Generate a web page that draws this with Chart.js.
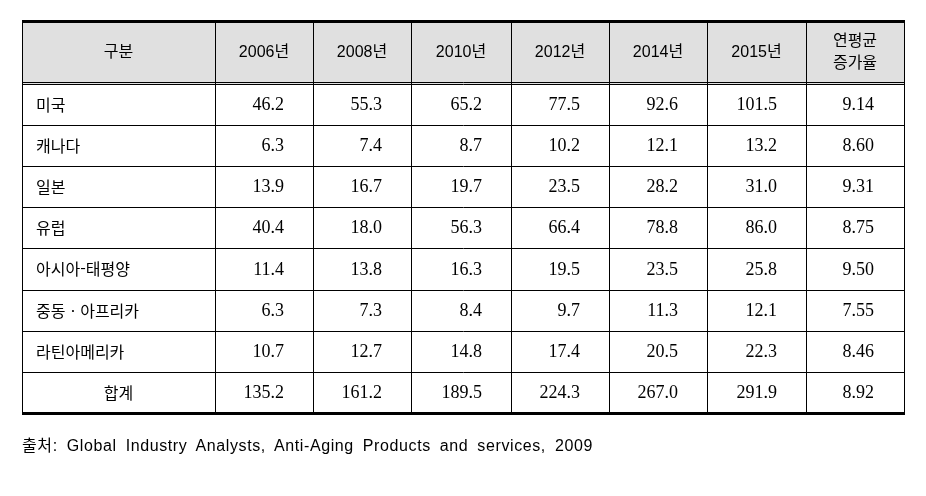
<!DOCTYPE html>
<html lang="ko">
<head>
<meta charset="utf-8">
<title>안티에이징 시장 규모</title>
<script src="https://cdn.jsdelivr.net/npm/chart.js@4.4.0/dist/chart.umd.min.js"></script>
<style>
  body { margin: 0; background: #fff; }
  .wrap { position: relative; width: 926px; height: 496px; }
  #tableChart { position: absolute; left: 0; top: 0; }
  .source {
    position: absolute; left: 22px; top: 432px;
    font: 16px "Liberation Sans", "Noto Sans CJK KR", sans-serif;
    letter-spacing: 0.6px; word-spacing: 4px; color: #000;
  }
</style>
</head>
<body>
<div class="wrap">
  <canvas id="tableChart" width="926" height="496"></canvas>
  <div class="source">출처: Global Industry Analysts, Anti-Aging Products and services, 2009</div>
</div>
<script>
'use strict';

// table data
const headFirst = '구분';
const years = ['2006년', '2008년', '2010년', '2012년', '2014년', '2015년'];
const headLast = ['연평균', '증가율'];
const regions = ['미국', '캐나다', '일본', '유럽', '아시아-태평양', '중동ㆍ아프리카', '라틴아메리카', '합계'];

const v2006 = [46.2, 6.3, 13.9, 40.4, 11.4, 6.3, 10.7, 135.2];
const v2008 = [55.3, 7.4, 16.7, 18.0, 13.8, 7.3, 12.7, 161.2];
const v2010 = [65.2, 8.7, 19.7, 56.3, 16.3, 8.4, 14.8, 189.5];
const v2012 = [77.5, 10.2, 23.5, 66.4, 19.5, 9.7, 17.4, 224.3];
const v2014 = [92.6, 12.1, 28.2, 78.8, 23.5, 11.3, 20.5, 267.0];
const v2015 = [101.5, 13.2, 31.0, 86.0, 25.8, 12.1, 22.3, 291.9];
const cagr = [9.14, 8.60, 9.31, 8.75, 9.50, 7.55, 8.46, 8.92];

const yearSeries = [v2006, v2008, v2010, v2012, v2014, v2015];

// layout: relative widths of columns and heights of rows (scale units)
const colWeights = [1.97, 1, 1, 1.02, 1, 1, 1.01, 1];
const headWeight = 1.5;

let colEdges = [0];
colWeights.forEach(w => colEdges.push(colEdges[colEdges.length - 1] + w));
let rowEdges = [0, headWeight];
regions.forEach(() => rowEdges.push(rowEdges[rowEdges.length - 1] + 1));

const numFont = '18px "Liberation Serif", serif';
const headFont = '16px "Liberation Sans", "Noto Sans CJK KR", sans-serif';
const labelFont = '16px "Noto Sans CJK KR", sans-serif';

const tablePlugin = {
  id: 'tableDraw',
  afterDraw(chart) {
    const ctx = chart.ctx;
    const xs = chart.scales.x, ys = chart.scales.y;
    const X = v => Math.round(xs.getPixelForValue(v));
    const Y = v => Math.round(ys.getPixelForValue(v));
    const left = X(colEdges[0]), right = X(colEdges[colEdges.length - 1]);
    const top = Y(0), bottom = Y(rowEdges[rowEdges.length - 1]);
    const headBottom = Y(headWeight);

    ctx.save();
    // header background
    ctx.fillStyle = '#e0e0e0';
    ctx.fillRect(left, top, right - left, headBottom - top);

    ctx.strokeStyle = '#000';
    ctx.lineWidth = 1;
    ctx.beginPath();
    // vertical lines
    colEdges.forEach(e => {
      const x = X(e) + 0.5;
      ctx.moveTo(x, top); ctx.lineTo(x, bottom);
    });
    // row lines
    rowEdges.slice(2, -1).forEach(e => {
      const y = Y(e) + 0.5;
      ctx.moveTo(left, y); ctx.lineTo(right + 1, y);
    });
    // double line under header
    ctx.moveTo(left, headBottom - 1.5); ctx.lineTo(right + 1, headBottom - 1.5);
    ctx.moveTo(left, headBottom + 0.5); ctx.lineTo(right + 1, headBottom + 0.5);
    ctx.stroke();

    // thick top and bottom rules
    ctx.fillStyle = '#000';
    ctx.fillRect(left, top - 2, right - left + 1, 3);
    ctx.fillRect(left, bottom - 1, right - left + 1, 3);

    // header texts
    ctx.fillStyle = '#000';
    ctx.textBaseline = 'middle';
    ctx.textAlign = 'center';
    ctx.font = headFont;
    const hMid = (top + headBottom) / 2;
    ctx.fillText(headFirst, (X(colEdges[0]) + X(colEdges[1])) / 2, hMid);
    years.forEach((t, i) => {
      ctx.fillText(t, (X(colEdges[i + 1]) + X(colEdges[i + 2])) / 2, hMid);
    });
    const lastMid = (X(colEdges[7]) + X(colEdges[8])) / 2;
    ctx.fillText(headLast[0], lastMid, hMid - 11);
    ctx.fillText(headLast[1], lastMid, hMid + 11);

    // body rows
    regions.forEach((r, j) => {
      const yMid = (Y(rowEdges[j + 1]) + Y(rowEdges[j + 2])) / 2;
      ctx.font = labelFont;
      if (j === regions.length - 1) {
        ctx.textAlign = 'center';
        ctx.fillText(r, (X(colEdges[0]) + X(colEdges[1])) / 2, yMid);
      } else {
        ctx.textAlign = 'left';
        ctx.fillText(r, X(colEdges[0]) + 14, yMid);
      }
      ctx.font = numFont;
      ctx.textAlign = 'right';
      yearSeries.forEach((s, i) => {
        ctx.fillText(s[j].toFixed(1), X(colEdges[i + 2]) - 29, yMid + 1);
      });
      ctx.fillText(cagr[j].toFixed(2), X(colEdges[8]) - 30, yMid + 1);
    });
    ctx.restore();
  }
};

const chart = new Chart(document.getElementById('tableChart'), {
  type: 'scatter',
  data: { datasets: [] },
  options: {
    responsive: false,
    animation: false,
    layout: { padding: { left: 22, right: 22, top: 22, bottom: 83 } },
    plugins: { legend: { display: false }, tooltip: { enabled: false } },
    scales: {
      x: { type: 'linear', display: false, min: 0, max: colEdges[colEdges.length - 1] },
      y: { type: 'linear', display: false, reverse: true, min: 0, max: rowEdges[rowEdges.length - 1] }
    }
  },
  plugins: [tablePlugin]
});
</script>
</body>
</html>
